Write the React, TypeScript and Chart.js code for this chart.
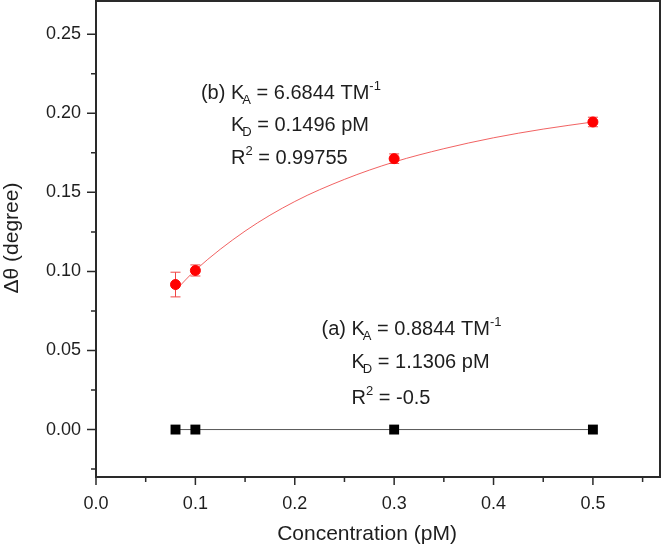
import React, { useEffect, useRef } from 'react';
import { Chart, registerables } from 'chart.js';

Chart.register(...registerables);

// ---- data ----
const concB = [0.08, 0.1, 0.3, 0.5];
const signalB = [0.0917, 0.1006, 0.1713, 0.1945];
const errorB = [0.0078, 0.0035, 0.003, 0.003];
const concA = [0.08, 0.1, 0.3, 0.5];
const signalA = [0, 0, 0, 0];
const fitConc = [0.08, 0.1, 0.15, 0.2, 0.25, 0.3, 0.35, 0.4, 0.45, 0.5];
const fitSignal = [0.088, 0.1008, 0.1255, 0.1442, 0.1582, 0.1692, 0.1776, 0.1845, 0.19, 0.1945];
const yMajorTicks = [0, 0.05, 0.1, 0.15, 0.2, 0.25];
const yMinorTicks = [-0.025, 0.025, 0.075, 0.125, 0.175, 0.225];
const xMajorTicks = [0, 0.1, 0.2, 0.3, 0.4, 0.5];
const xMinorTicks = [0.05, 0.15, 0.25, 0.35, 0.45, 0.55];
const fitLabels = ['(b)', '(a)'];
const kaValues = ['6.6844', '0.8844'];
const kdValues = ['0.1496', '1.1306'];
const r2Values = ['0.99755', '-0.5'];
const xTitle = 'Concentration (pM)';
const yTitle = 'Δθ (degree)';

const FONT = "Arial, 'Liberation Sans', Helvetica, sans-serif";
const INK = '#1e1e1e';

const isIn = (v: number, arr: number[]) => arr.some((a) => Math.abs(a - v) < 1e-9);

type Part = [string, '' | 'sub' | 'sup'];

function drawRich(ctx: CanvasRenderingContext2D, x: number, y: number, parts: Part[]) {
  let cx = x;
  parts.forEach(([text, kind]) => {
    if (kind === 'sub') {
      ctx.font = `13px ${FONT}`;
      cx -= 2;
      ctx.fillText(text, cx, y + 5);
      cx += ctx.measureText(text).width;
    } else if (kind === 'sup') {
      ctx.font = `13px ${FONT}`;
      ctx.fillText(text, cx, y - 9);
      cx += ctx.measureText(text).width;
    } else {
      ctx.font = `20px ${FONT}`;
      ctx.fillText(text, cx, y);
      cx += ctx.measureText(text).width;
    }
  });
}

const zeroPad = (s: any) => {
  s.paddingTop = 0;
  s.paddingBottom = 0;
  s.paddingLeft = 0;
  s.paddingRight = 0;
};

const decorPlugin = {
  id: 'decor',
  beforeDatasetsDraw(chart: any) {
    const { ctx, scales } = chart;
    const x = scales.x;
    const y = scales.y;
    ctx.save();
    ctx.strokeStyle = '#f04646';
    ctx.lineWidth = 1;
    concB.forEach((c, i) => {
      const px = x.getPixelForValue(c);
      const top = y.getPixelForValue(signalB[i] + errorB[i]);
      const bot = y.getPixelForValue(signalB[i] - errorB[i]);
      ctx.beginPath();
      ctx.moveTo(px, top);
      ctx.lineTo(px, bot);
      ctx.moveTo(px - 5, top);
      ctx.lineTo(px + 5, top);
      ctx.moveTo(px - 5, bot);
      ctx.lineTo(px + 5, bot);
      ctx.stroke();
    });
    ctx.restore();
  },
  afterDraw(chart: any) {
    const { ctx, chartArea: a, scales } = chart;
    const x = scales.x;
    const y = scales.y;
    ctx.save();
    // frame
    ctx.strokeStyle = '#2a2a2a';
    ctx.lineWidth = 2;
    ctx.strokeRect(a.left, a.top, a.right - a.left, a.bottom - a.top);
    // ticks
    ctx.lineWidth = 1.5;
    ctx.beginPath();
    yMajorTicks.forEach((v) => {
      const p = y.getPixelForValue(v);
      ctx.moveTo(a.left - 9, p);
      ctx.lineTo(a.left, p);
    });
    yMinorTicks.forEach((v) => {
      const p = y.getPixelForValue(v);
      ctx.moveTo(a.left - 5, p);
      ctx.lineTo(a.left, p);
    });
    xMajorTicks.forEach((v) => {
      const p = x.getPixelForValue(v);
      ctx.moveTo(p, a.bottom);
      ctx.lineTo(p, a.bottom + 8);
    });
    xMinorTicks.forEach((v) => {
      const p = x.getPixelForValue(v);
      ctx.moveTo(p, a.bottom);
      ctx.lineTo(p, a.bottom + 5);
    });
    ctx.stroke();

    // axis titles
    ctx.fillStyle = INK;
    ctx.font = `21px ${FONT}`;
    ctx.textAlign = 'center';
    ctx.textBaseline = 'alphabetic';
    ctx.fillText(xTitle, 367, 540);
    ctx.save();
    ctx.translate(18, 238);
    ctx.rotate(-Math.PI / 2);
    ctx.fillText(yTitle, 0, 0);
    ctx.restore();

    // fit annotations
    ctx.textAlign = 'left';
    const anchorsX = [0.1358, 0.2571];
    const anchorsY = [
      [0.209, 0.1888, 0.1679],
      [0.0595, 0.0392, 0.0163],
    ];
    fitLabels.forEach((lab, i) => {
      const kx = x.getPixelForValue(anchorsX[i]);
      const ys = anchorsY[i].map((v) => y.getPixelForValue(v));
      ctx.font = `20px ${FONT}`;
      const prefix = lab + ' ';
      ctx.fillText(prefix, kx - ctx.measureText(prefix).width, ys[0]);
      drawRich(ctx, kx, ys[0], [
        ['K', ''],
        ['A', 'sub'],
        [' = ' + kaValues[i] + ' TM', ''],
        ['-1', 'sup'],
      ]);
      drawRich(ctx, kx, ys[1], [
        ['K', ''],
        ['D', 'sub'],
        [' = ' + kdValues[i] + ' pM', ''],
      ]);
      drawRich(ctx, kx, ys[2], [
        ['R', ''],
        ['2', 'sup'],
        [' = ' + r2Values[i], ''],
      ]);
    });
    ctx.restore();
  },
};

export default function App() {
  const ref = useRef<HTMLCanvasElement | null>(null);

  useEffect(() => {
    if (!ref.current) return;
    const chart = new Chart(ref.current, {
      type: 'scatter',
      data: {
        datasets: [
          {
            label: 'b',
            data: concB.map((c, i) => ({ x: c, y: signalB[i] })),
            showLine: false,
            pointStyle: 'circle',
            pointRadius: 5,
            pointBackgroundColor: '#ff0000',
            pointBorderColor: '#ff0000',
            pointBorderWidth: 1,
            order: 0,
          },
          {
            label: 'a',
            data: concA.map((c, i) => ({ x: c, y: signalA[i] })),
            showLine: true,
            borderColor: '#555555',
            borderWidth: 1,
            pointStyle: 'rect',
            pointRadius: 7,
            pointBackgroundColor: '#000000',
            pointBorderColor: '#000000',
            pointBorderWidth: 0,
            order: 1,
          },
          {
            label: 'fit',
            data: fitConc.map((c, i) => ({ x: c, y: fitSignal[i] })),
            showLine: true,
            borderColor: 'rgba(238, 70, 70, 0.85)',
            borderWidth: 1,
            pointRadius: 0,
            cubicInterpolationMode: 'monotone',
            order: 2,
          },
        ],
      },
      options: {
        animation: false,
        responsive: false,
        maintainAspectRatio: false,
        layout: { autoPadding: false, padding: { top: 1, right: 2, left: 0, bottom: 0 } },
        plugins: {
          legend: { display: false },
          tooltip: { enabled: false },
        },
        scales: {
          x: {
            type: 'linear',
            min: 0,
            max: 0.5675,
            grid: { display: false },
            border: { display: false },
            afterBuildTicks: (s: any) => {
              s.ticks = [...xMajorTicks, ...xMinorTicks]
                .sort((p, q) => p - q)
                .map((v) => ({ value: v }));
            },
            afterFit: (s: any) => {
              s.height = 68;
              zeroPad(s);
            },
            ticks: {
              autoSkip: false,
              maxRotation: 0,
              padding: 8,
              color: INK,
              font: { family: FONT, size: 18 },
              callback: (v: any) => (isIn(Number(v), xMajorTicks) ? Number(v).toFixed(1) : ''),
            },
          },
          y: {
            type: 'linear',
            min: -0.03,
            max: 0.271,
            grid: { display: false },
            border: { display: false },
            afterBuildTicks: (s: any) => {
              s.ticks = [...yMajorTicks, ...yMinorTicks]
                .sort((p, q) => p - q)
                .map((v) => ({ value: v }));
            },
            afterFit: (s: any) => {
              s.width = 96;
              zeroPad(s);
            },
            ticks: {
              autoSkip: false,
              padding: 7,
              color: INK,
              font: { family: FONT, size: 18 },
              callback: (v: any) => (isIn(Number(v), yMajorTicks) ? Number(v).toFixed(2) : ''),
            },
          },
        },
      },
      plugins: [decorPlugin],
    } as any);
    return () => chart.destroy();
  }, []);

  return (
    <div
      style={{
        position: 'fixed',
        left: 0,
        top: 0,
        width: 662,
        height: 545,
        background: '#ffffff',
      }}
    >
      <canvas ref={ref} width={662} height={545} style={{ display: 'block' }} />
    </div>
  );
}
